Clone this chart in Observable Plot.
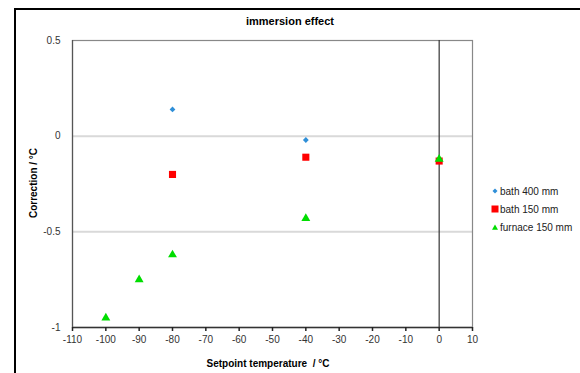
<!DOCTYPE html>
<html><head><meta charset="utf-8">
<script src="https://cdn.jsdelivr.net/npm/d3@7"></script>
<script src="https://cdn.jsdelivr.net/npm/@observablehq/plot@0.6"></script>
<style>
body{margin:0;background:#fff;font-family:"Liberation Sans",Arial,sans-serif}
#wrap{position:relative;width:580px;height:373px;overflow:hidden;background:#fff}
#frame{position:absolute;left:14px;top:8px;width:700px;height:500px;border-left:2px solid #000;border-top:2px solid #000;box-sizing:border-box}
#chart{position:absolute;left:0;top:0}
.t{position:absolute;font-weight:bold;color:#000;white-space:nowrap}
#title{left:0;width:580px;top:15px;text-align:center;font-size:11px}
#xlab{left:168px;width:200px;top:358px;text-align:center;font-size:10px}
#ylab{left:33px;top:183px;font-size:10px;transform:translate(-50%,-50%) rotate(-90deg)}
#legend{position:absolute;left:491px;top:182px;font-size:10px;color:#222}
#legend div{height:18px;display:flex;align-items:center;white-space:nowrap}
#legend svg{margin-right:1px}
</style></head>
<body>
<div id="wrap">
<div id="frame"></div>
<div id="chart"></div>
<div class="t" id="title">immersion effect</div>
<div class="t" id="xlab">Setpoint temperature &nbsp;/ °C</div>
<div class="t" id="ylab">Correction / °C</div>
<div id="legend"></div>
</div>
<script>
const xTicks = [-110, -100, -90, -80, -70, -60, -50, -40, -30, -20, -10, 0, 10];
const yTicks = [0.5, 0, -0.5, -1];
const seriesNames = ["bath 400 mm", "bath 150 mm", "furnace 150 mm"];
const bath400X = [-80, -40];
const bath400Y = [0.14, -0.02];
const bath150X = [-80, -40, 0];
const bath150Y = [-0.20, -0.11, -0.13];
const furnaceX = [-100, -90, -80, -40, 0];
const furnaceY = [-0.95, -0.75, -0.62, -0.43, -0.12];

const colors = ["#2f8fd8", "#ff0000", "#00dd00"];
const symbols = ["diamond2", "square", "triangle"];
const radii = [2.6, 4, 3.3];

const toRows = (xs, ys, s) => xs.map((x, i) => ({x, y: ys[i], s}));
const series = [
  toRows(bath400X, bath400Y, seriesNames[0]),
  toRows(bath150X, bath150Y, seriesNames[1]),
  toRows(furnaceX, furnaceY, seriesNames[2])
];

const plot = Plot.plot({
  width: 580,
  height: 373,
  marginLeft: 72,
  marginRight: 108,
  marginTop: 40,
  marginBottom: 46,
  style: {fontFamily: '"Liberation Sans", Arial, sans-serif', fontSize: "10px", color: "#333", background: "transparent"},
  x: {domain: [-110, 10], ticks: xTicks},
  y: {domain: [-1, 0.5], ticks: yTicks},
  marks: [
    Plot.ruleY([0, -0.5], {stroke: "#d9d9d9", strokeWidth: 2}),
    Plot.frame({stroke: "#888", strokeWidth: 1.2}),
    Plot.ruleX([0], {stroke: "#333", strokeWidth: 1.2}),
    Plot.ruleY([-1], {stroke: "#333", strokeWidth: 1.5}),
    Plot.ruleX([-110], {stroke: "#555", strokeWidth: 1.2}),
    Plot.axisX({ticks: xTicks, tickSize: 4, tickPadding: 4, tickFormat: d => String(d), label: null, stroke: "#222", strokeWidth: 1.5, fill: "#333"}),
    Plot.axisY({ticks: yTicks, tickSize: 0, tickPadding: 12, tickFormat: d => String(d), label: null, fill: "#333"}),
    ...series.map((rows, i) => Plot.dot(rows, {x: "x", y: "y", symbol: () => symbols[i], fill: colors[i], r: radii[i], stroke: "none"}))
  ]
});
document.getElementById("chart").append(plot);

const leg = document.getElementById("legend");
seriesNames.forEach((name, i) => {
  const row = document.createElement("div");
  let shape;
  if (i === 0) shape = '<svg width="8" height="8"><path d="M4,1.5L6.5,4L4,6.5L1.5,4Z" fill="' + colors[0] + '"/></svg>';
  else if (i === 1) shape = '<svg width="8" height="8"><rect x="0.5" y="0.5" width="7" height="7" fill="' + colors[1] + '"/></svg>';
  else shape = '<svg width="8" height="8"><path d="M4,1.5L7,6.8L1,6.8Z" fill="' + colors[2] + '"/></svg>';
  row.innerHTML = shape + '<span>' + name + '</span>';
  leg.append(row);
});
</script>
</body></html>
